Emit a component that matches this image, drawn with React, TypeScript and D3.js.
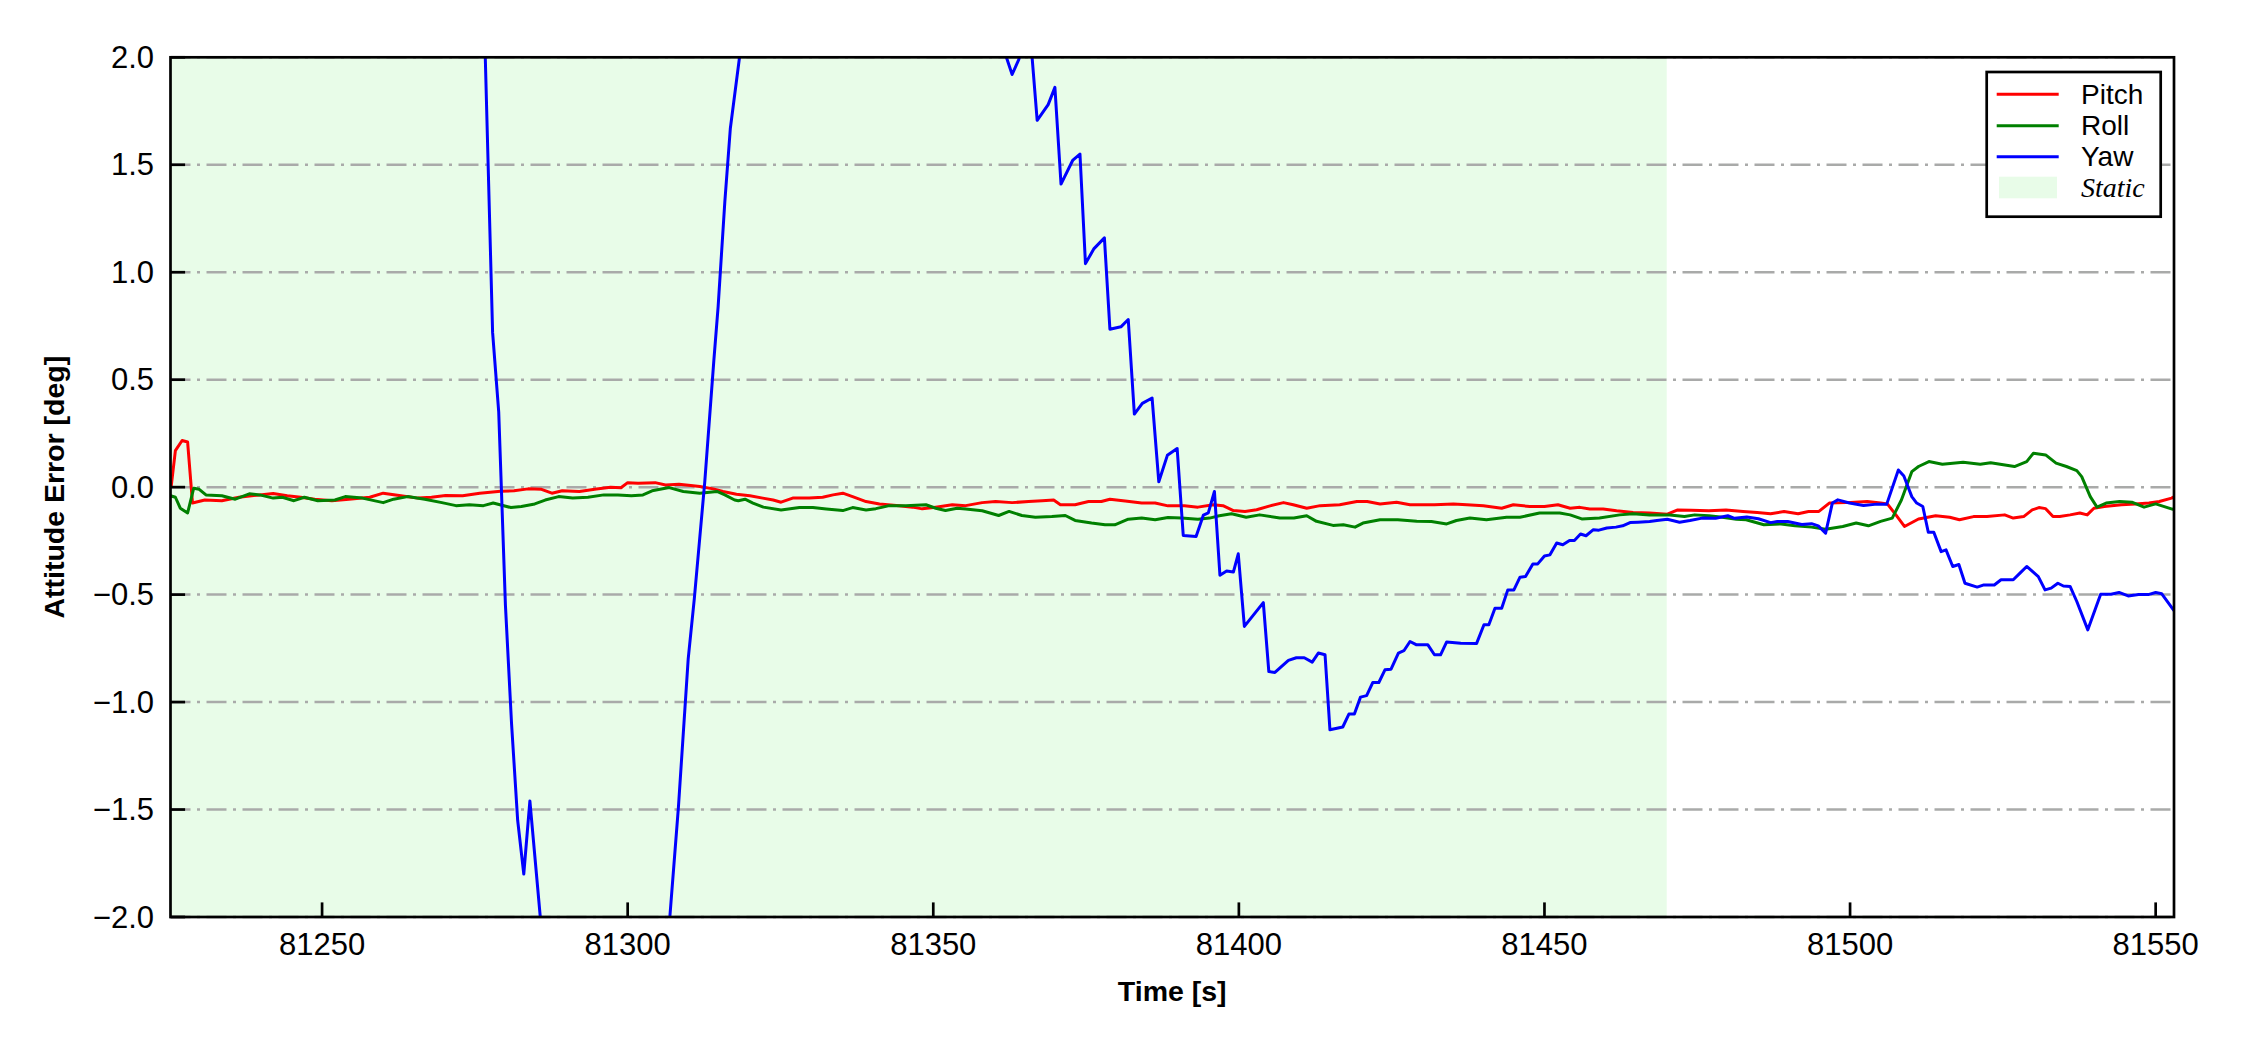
import React from 'react';
import * as d3 from 'd3';

const W = 2250;
const H = 1050;
const PLOT = { left: 170.5, right: 2174, top: 57.3, bottom: 917 };

const xDomain: [number, number] = [81225.2, 81553.0];
const yDomain: [number, number] = [-2, 2];
const xTicks = [81250, 81300, 81350, 81400, 81450, 81500, 81550];
const yTicks = [-2.0, -1.5, -1.0, -0.5, 0.0, 0.5, 1.0, 1.5, 2.0];
const staticSpan: [number, number] = [81225.2, 81470];

const seriesNames = ['Pitch', 'Roll', 'Yaw'];
const seriesColors = ['#ff0000', '#008000', '#0000ff'];
const staticLabel = 'Static';
const xLabel = 'Time [s]';
const yLabel = 'Attitude Error [deg]';

const pitch: [number, number][] = [
  [81225.3, 0.0], [81226.0, 0.17], [81227.1, 0.217], [81228.0, 0.21], [81228.8, -0.074], [81230.8, -0.06],
  [81233.6, -0.063], [81236.4, -0.047], [81239.8, -0.036], [81242.0, -0.03], [81244.3, -0.04], [81246.5, -0.047],
  [81248.8, -0.056], [81251.6, -0.063], [81254.4, -0.056], [81257.8, -0.047], [81260.0, -0.028], [81262.9, -0.04],
  [81265.7, -0.051], [81267.9, -0.047], [81270.2, -0.039], [81273.0, -0.04], [81275.8, -0.028], [81279.2, -0.019],
  [81281.4, -0.017], [81283.7, -0.008], [81285.9, -0.01], [81287.6, -0.028], [81289.3, -0.017], [81292.1, -0.02],
  [81294.9, -0.009], [81297.2, 0.0], [81298.9, -0.003], [81300.0, 0.021], [81301.7, 0.018], [81304.5, 0.021],
  [81306.2, 0.01], [81308.4, 0.014], [81310.7, 0.007], [81311.8, 0.003], [81314.0, -0.008], [81315.6, -0.02],
  [81317.8, -0.033], [81320.0, -0.04], [81322.1, -0.051], [81323.8, -0.06], [81325.1, -0.07], [81327.0, -0.051],
  [81329.7, -0.051], [81331.9, -0.047], [81333.6, -0.036], [81335.2, -0.028], [81336.8, -0.044], [81339.0, -0.067],
  [81341.2, -0.078], [81344.4, -0.087], [81346.6, -0.093], [81348.2, -0.101], [81350.4, -0.093], [81353.1, -0.082],
  [81355.3, -0.086], [81358.0, -0.072], [81360.2, -0.067], [81362.9, -0.072], [81365.6, -0.067], [81367.8, -0.063],
  [81369.7, -0.06], [81370.8, -0.082], [81373.2, -0.082], [81375.4, -0.067], [81377.5, -0.067], [81378.9, -0.056],
  [81381.4, -0.064], [81384.1, -0.074], [81386.3, -0.074], [81388.4, -0.087], [81391.1, -0.087], [81393.3, -0.093],
  [81395.8, -0.082], [81397.4, -0.086], [81399.1, -0.109], [81401.0, -0.113], [81402.9, -0.105], [81405.1, -0.087],
  [81407.3, -0.072], [81408.9, -0.082], [81411.1, -0.098], [81413.3, -0.086], [81416.5, -0.082], [81419.3, -0.067],
  [81421.0, -0.067], [81423.1, -0.078], [81425.8, -0.07], [81428.0, -0.082], [81432.0, -0.082], [81435.1, -0.078],
  [81437.3, -0.082], [81440.0, -0.087], [81443.0, -0.098], [81444.9, -0.082], [81447.6, -0.09], [81450.0, -0.09],
  [81452.2, -0.082], [81454.2, -0.098], [81455.8, -0.094], [81457.4, -0.102], [81459.6, -0.102], [81461.8, -0.11],
  [81464.5, -0.118], [81467.2, -0.12], [81470.1, -0.126], [81471.8, -0.106], [81474.0, -0.108], [81476.9, -0.11],
  [81479.7, -0.106], [81482.5, -0.113], [81484.8, -0.118], [81487.0, -0.124], [81489.2, -0.113], [81491.5, -0.124],
  [81493.2, -0.113], [81494.9, -0.113], [81496.6, -0.074], [81499.4, -0.072], [81502.8, -0.067], [81505.0, -0.074],
  [81506.1, -0.078], [81507.5, -0.129], [81508.9, -0.183], [81511.2, -0.148], [81514.0, -0.133], [81516.3, -0.14],
  [81517.9, -0.152], [81520.2, -0.137], [81522.4, -0.137], [81525.3, -0.129], [81526.7, -0.144], [81528.4, -0.137],
  [81529.8, -0.106], [81530.9, -0.095], [81532.0, -0.1], [81533.2, -0.137], [81534.3, -0.137], [81536.0, -0.129],
  [81537.6, -0.12], [81538.8, -0.129], [81539.9, -0.098], [81541.6, -0.09], [81544.4, -0.082], [81546.7, -0.078],
  [81548.9, -0.074], [81550.6, -0.067], [81552.6, -0.051], [81553.0, -0.045],
];

const roll: [number, number][] = [
  [81225.2, -0.04], [81226.0, -0.047], [81226.8, -0.098], [81228.0, -0.12], [81229.0, -0.005], [81229.9, -0.01],
  [81231.0, -0.036], [81233.6, -0.04], [81235.8, -0.056], [81238.1, -0.031], [81239.8, -0.036], [81242.0, -0.051],
  [81243.5, -0.047], [81245.4, -0.063], [81247.1, -0.047], [81249.3, -0.063], [81252.1, -0.06], [81253.8, -0.044],
  [81256.6, -0.051], [81260.0, -0.072], [81261.7, -0.056], [81264.0, -0.044], [81266.8, -0.056], [81269.6, -0.072],
  [81271.9, -0.086], [81274.1, -0.082], [81276.4, -0.086], [81278.0, -0.074], [81280.9, -0.095], [81282.6, -0.09],
  [81284.8, -0.078], [81286.5, -0.06], [81288.7, -0.044], [81291.0, -0.051], [81293.5, -0.047], [81296.1, -0.036],
  [81298.4, -0.036], [81300.6, -0.04], [81302.5, -0.036], [81304.0, -0.017], [81306.8, -0.002], [81309.1, -0.02],
  [81311.8, -0.028], [81314.6, -0.02], [81315.9, -0.036], [81317.5, -0.06], [81318.1, -0.063], [81319.2, -0.056],
  [81320.5, -0.074], [81322.2, -0.093], [81325.1, -0.106], [81328.1, -0.095], [81330.3, -0.095], [81332.5, -0.102],
  [81335.2, -0.109], [81336.8, -0.095], [81339.0, -0.106], [81340.6, -0.1], [81342.8, -0.086], [81345.5, -0.087],
  [81348.8, -0.082], [81350.4, -0.098], [81352.0, -0.109], [81353.9, -0.098], [81355.3, -0.102], [81358.0, -0.11],
  [81360.7, -0.132], [81362.4, -0.113], [81364.5, -0.132], [81366.7, -0.14], [81369.4, -0.137], [81371.6, -0.132],
  [81373.2, -0.155], [81375.9, -0.167], [81378.1, -0.175], [81379.7, -0.175], [81381.9, -0.149], [81384.1, -0.144],
  [81386.3, -0.152], [81388.4, -0.141], [81390.6, -0.144], [81393.3, -0.149], [81395.2, -0.144], [81396.8, -0.133],
  [81398.8, -0.124], [81401.2, -0.14], [81403.4, -0.129], [81406.7, -0.144], [81409.0, -0.144], [81411.1, -0.133],
  [81412.7, -0.159], [81415.4, -0.178], [81417.1, -0.175], [81419.0, -0.186], [81420.3, -0.167], [81423.1, -0.152],
  [81426.0, -0.152], [81429.1, -0.159], [81431.5, -0.16], [81434.0, -0.171], [81435.6, -0.155], [81437.8, -0.144],
  [81440.5, -0.152], [81443.8, -0.14], [81446.0, -0.14], [81449.2, -0.12], [81452.5, -0.12], [81454.2, -0.129],
  [81456.1, -0.148], [81459.0, -0.144], [81462.3, -0.129], [81464.5, -0.124], [81467.2, -0.13], [81470.5, -0.13],
  [81472.9, -0.137], [81474.6, -0.129], [81476.9, -0.133], [81479.1, -0.14], [81481.4, -0.149], [81483.0, -0.152],
  [81485.9, -0.175], [81488.7, -0.171], [81491.0, -0.18], [81493.7, -0.186], [81496.0, -0.196], [81498.8, -0.183],
  [81501.0, -0.167], [81503.0, -0.18], [81505.0, -0.159], [81506.9, -0.144], [81508.4, -0.06], [81510.1, 0.072],
  [81511.2, 0.096], [81512.9, 0.119], [81515.1, 0.107], [81518.5, 0.116], [81521.3, 0.107], [81523.0, 0.114],
  [81526.9, 0.096], [81528.9, 0.119], [81530.0, 0.158], [81532.0, 0.15], [81533.7, 0.112], [81535.4, 0.096],
  [81537.1, 0.077], [81537.9, 0.049], [81539.3, -0.044], [81540.4, -0.093], [81541.9, -0.074], [81544.1, -0.067],
  [81546.1, -0.07], [81548.1, -0.093], [81550.0, -0.078], [81552.7, -0.102], [81553.0, -0.104],
];

const yaw: [number, number][] = [
  [81225.2, 3.0], [81276.0, 2.75], [81277.9, 0.72], [81278.9, 0.35], [81280.0, -0.55], [81281.0, -1.1],
  [81282.0, -1.55], [81283.0, -1.8], [81284.0, -1.46], [81285.7, -2.0], [81290.0, -2.6], [81296.0, -2.9],
  [81302.0, -2.7], [81305.8, -2.4], [81308.3, -1.49], [81309.9, -0.8], [81310.9, -0.52], [81312.6, 0.02],
  [81314.1, 0.59], [81314.8, 0.84], [81315.9, 1.33], [81316.8, 1.67], [81318.3, 2.0], [81320.0, 2.6],
  [81340.0, 3.4], [81358.0, 2.6], [81360.8, 2.1], [81362.9, 1.92], [81364.0, 1.99], [81365.6, 2.2],
  [81367.0, 1.707], [81368.8, 1.78], [81369.9, 1.86], [81370.9, 1.41], [81372.8, 1.52], [81374.0, 1.55],
  [81374.9, 1.04], [81376.3, 1.11], [81378.0, 1.16], [81378.9, 0.735], [81380.7, 0.746], [81381.9, 0.78],
  [81382.9, 0.34], [81384.2, 0.39], [81385.8, 0.415], [81386.9, 0.025], [81388.3, 0.148], [81389.9, 0.18],
  [81390.9, -0.225], [81393.0, -0.23], [81394.2, -0.13], [81395.0, -0.12], [81396.0, -0.02], [81396.9, -0.41],
  [81398.0, -0.39], [81399.1, -0.395], [81399.9, -0.31], [81400.9, -0.648], [81404.0, -0.537], [81404.9, -0.858],
  [81405.9, -0.862], [81408.1, -0.806], [81409.4, -0.794], [81410.7, -0.794], [81412.0, -0.814], [81413.0, -0.772],
  [81414.1, -0.78], [81414.9, -1.129], [81417.0, -1.116], [81418.0, -1.056], [81418.9, -1.056], [81419.9, -0.977],
  [81420.9, -0.97], [81421.9, -0.909], [81422.9, -0.909], [81423.9, -0.85], [81424.9, -0.847], [81426.1, -0.772],
  [81427.0, -0.761], [81428.0, -0.718], [81429.0, -0.733], [81430.9, -0.733], [81432.0, -0.78], [81433.0, -0.78],
  [81434.0, -0.72], [81436.3, -0.726], [81438.9, -0.727], [81440.1, -0.64], [81440.9, -0.64], [81441.9, -0.563],
  [81443.0, -0.563], [81444.0, -0.478], [81445.0, -0.478], [81446.0, -0.419], [81446.9, -0.416], [81448.1, -0.357],
  [81448.9, -0.357], [81450.0, -0.32], [81450.9, -0.315], [81452.0, -0.26], [81453.0, -0.268], [81454.1, -0.248],
  [81454.9, -0.248], [81455.9, -0.218], [81456.8, -0.226], [81458.0, -0.198], [81458.9, -0.2], [81460.2, -0.19],
  [81461.7, -0.186], [81462.8, -0.18], [81464.0, -0.165], [81465.3, -0.163], [81467.2, -0.16], [81468.4, -0.155],
  [81470.1, -0.149], [81472.1, -0.163], [81473.8, -0.155], [81475.8, -0.144], [81478.0, -0.145], [81480.0, -0.133],
  [81481.1, -0.145], [81483.1, -0.139], [81485.0, -0.147], [81487.0, -0.165], [81488.1, -0.16], [81489.8, -0.16],
  [81492.1, -0.174], [81493.7, -0.17], [81494.8, -0.18], [81496.0, -0.214], [81497.1, -0.074], [81498.0, -0.059],
  [81499.9, -0.074], [81502.2, -0.085], [81504.4, -0.079], [81506.0, -0.079], [81507.9, 0.08], [81508.8, 0.052],
  [81510.1, -0.044], [81510.9, -0.074], [81511.9, -0.09], [81512.8, -0.21], [81513.7, -0.21], [81514.9, -0.3],
  [81515.7, -0.292], [81516.8, -0.369], [81517.8, -0.36], [81518.8, -0.447], [81520.8, -0.465], [81521.9, -0.455],
  [81523.6, -0.455], [81524.7, -0.431], [81526.7, -0.431], [81527.8, -0.4], [81528.9, -0.369], [81530.8, -0.416],
  [81531.9, -0.478], [81532.9, -0.47], [81534.0, -0.447], [81534.9, -0.46], [81536.0, -0.462], [81537.1, -0.532],
  [81538.9, -0.664], [81541.0, -0.498], [81542.7, -0.498], [81544.0, -0.49], [81545.5, -0.506], [81547.2, -0.5],
  [81548.8, -0.5], [81550.0, -0.49], [81551.0, -0.496], [81552.7, -0.563], [81553.0, -0.575],
];

const seriesData = [pitch, roll, yaw];

export default function App() {
  const x = d3.scaleLinear().domain(xDomain).range([PLOT.left, PLOT.right]);
  const y = d3.scaleLinear().domain(yDomain).range([PLOT.bottom, PLOT.top]);
  const line = d3
    .line<[number, number]>()
    .x((d) => x(d[0]))
    .y((d) => y(d[1]));
  const fmtY = d3.format('.1f');
  const sans = "'Liberation Sans', Arial, Helvetica, sans-serif";
  const serif = "'Liberation Serif', 'Times New Roman', Times, serif";
  const tickLen = 14.6;
  const spineW = 2.7;

  const legend = { x0: 1986.7, y0: 72, w: 174, h: 144.7 };
  const rowY = [94.3, 125.7, 156.7, 187.5];

  return (
    <svg
      width={W}
      height={H}
      viewBox={`0 0 ${W} ${H}`}
      style={{ position: 'absolute', left: 0, top: 0, background: '#fff' }}
    >
      <defs>
        <clipPath id="plotClip">
          <rect x={PLOT.left} y={PLOT.top} width={PLOT.right - PLOT.left} height={PLOT.bottom - PLOT.top} />
        </clipPath>
      </defs>
      <rect x={0} y={0} width={W} height={H} fill="#ffffff" />
      {/* static span */}
      <rect
        x={x(staticSpan[0])}
        y={PLOT.top}
        width={x(staticSpan[1]) - x(staticSpan[0])}
        height={PLOT.bottom - PLOT.top}
        fill="#e8fce8"
      />
      {/* horizontal grid */}
      <g>
        {yTicks.map((t) => (
          <line
            key={t}
            x1={PLOT.left}
            x2={PLOT.right}
            y1={y(t)}
            y2={y(t)}
            stroke="#a9aaa9"
            strokeWidth={2.5}
            strokeDasharray="20 6.5 3 6.5"
          />
        ))}
      </g>
      {/* series */}
      <g clipPath="url(#plotClip)">
        {seriesData.map((s, i) => (
          <path
            key={seriesNames[i]}
            d={line(s) || ''}
            fill="none"
            stroke={seriesColors[i]}
            strokeWidth={3}
            strokeLinejoin="round"
          />
        ))}
      </g>
      {/* ticks (inward) */}
      <g stroke="#000" strokeWidth={2.7}>
        {xTicks.map((t) => (
          <line key={t} x1={x(t)} x2={x(t)} y1={PLOT.bottom} y2={PLOT.bottom - tickLen} />
        ))}
        {yTicks.map((t) => (
          <line key={t} x1={PLOT.left} x2={PLOT.left + tickLen} y1={y(t)} y2={y(t)} />
        ))}
      </g>
      {/* frame */}
      <rect
        x={PLOT.left}
        y={PLOT.top}
        width={PLOT.right - PLOT.left}
        height={PLOT.bottom - PLOT.top}
        fill="none"
        stroke="#000"
        strokeWidth={spineW}
      />
      {/* tick labels */}
      <g fontFamily={sans} fontSize={31} fill="#000">
        {xTicks.map((t) => (
          <text key={t} x={x(t)} y={955} textAnchor="middle">
            {String(t)}
          </text>
        ))}
        {yTicks.map((t) => (
          <text key={t} x={154} y={y(t)} textAnchor="end" dominantBaseline="central">
            {fmtY(t)}
          </text>
        ))}
      </g>
      {/* axis labels */}
      <text
        x={(PLOT.left + PLOT.right) / 2}
        y={1001}
        textAnchor="middle"
        fontFamily={sans}
        fontWeight="bold"
        fontSize={28.5}
      >
        {xLabel}
      </text>
      <text
        transform={`translate(64, ${(PLOT.top + PLOT.bottom) / 2}) rotate(-90)`}
        textAnchor="middle"
        fontFamily={sans}
        fontWeight="bold"
        fontSize={28.5}
      >
        {yLabel}
      </text>
      {/* legend */}
      <g>
        <rect x={legend.x0} y={legend.y0} width={legend.w} height={legend.h} fill="#fff" stroke="#000" strokeWidth={2.7} />
        {seriesNames.map((n, i) => (
          <g key={n}>
            <line x1={1996.7} x2={2058.7} y1={rowY[i]} y2={rowY[i]} stroke={seriesColors[i]} strokeWidth={3} />
            <text x={2081} y={rowY[i]} dominantBaseline="central" fontFamily={sans} fontSize={28}>
              {n}
            </text>
          </g>
        ))}
        <rect x={1999} y={176.7} width={58} height={21.6} fill="#e8fce8" />
        <text x={2081} y={rowY[3]} dominantBaseline="central" fontFamily={serif} fontStyle="italic" fontSize={28}>
          {staticLabel}
        </text>
      </g>
    </svg>
  );
}
